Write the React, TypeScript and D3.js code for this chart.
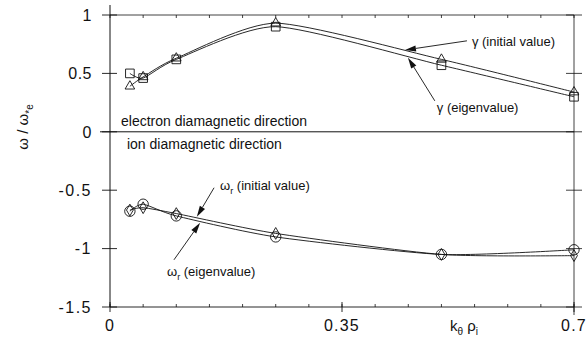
import React from 'react';
import * as d3 from 'd3';

// k_theta rho_i sample points
const kValues = [0.03, 0.05, 0.1, 0.25, 0.5, 0.7];
// growth rate gamma
const gammaInitial = [0.39, 0.47, 0.63, 0.93, 0.62, 0.34];
const gammaEigen = [0.5, 0.46, 0.62, 0.9, 0.57, 0.3];
// real frequency omega_r
const omegaInitial = [-0.67, -0.65, -0.7, -0.87, -1.05, -1.06];
const omegaEigen = [-0.68, -0.62, -0.72, -0.9, -1.05, -1.01];

const yTicks = [1, 0.5, 0, -0.5, -1, -1.5];
const yTickLabels = ['1', '0.5', '0', '-0.5', '-1', '-1.5'];
const xTicks = [0, 0.35, 0.7];
const xTickLabels = ['0', '0.35', '0.7'];

const W = 587;
const H = 347;
const font = '"Liberation Sans", Arial, Helvetica, sans-serif';
const ink = '#111';

const x = d3.scaleLinear().domain([0, 0.7]).range([110, 574]);
const y = d3.scaleLinear().domain([-1.5, 1]).range([307, 15]);

const line = d3
  .line<number>()
  .x((_, i) => x(kValues[i]))
  .y((d) => y(d))
  .curve(d3.curveCardinal.tension(0.35));

const Arrow = ({ from, to }: { from: [number, number]; to: [number, number] }) => {
  const x1 = x(from[0]), y1 = y(from[1]);
  const x2 = x(to[0]), y2 = y(to[1]);
  const a = Math.atan2(y2 - y1, x2 - x1);
  const len = 11, half = 3;
  const bx = x2 - len * Math.cos(a), by = y2 - len * Math.sin(a);
  const p1 = [bx + half * Math.sin(a), by - half * Math.cos(a)];
  const p2 = [bx - half * Math.sin(a), by + half * Math.cos(a)];
  return (
    <g>
      <line x1={x1} y1={y1} x2={bx} y2={by} stroke={ink} strokeWidth={0.9} />
      <path d={`M${x2},${y2}L${p1[0]},${p1[1]}L${p2[0]},${p2[1]}Z`} fill={ink} />
    </g>
  );
};

const Markers = ({ values, type, size }: { values: number[]; type: d3.SymbolType; size: number }) => {
  const sym = d3.symbol(type, size)();
  return (
    <g>
      {values.map((v, i) => (
        <path key={i} d={sym || ''} transform={`translate(${x(kValues[i])},${y(v)})`}
          fill="none" stroke={ink} strokeWidth={0.9} />
      ))}
    </g>
  );
};

export default function App() {
  const minor = d3.range(0, 0.7001, 0.05);
  return (
    <svg width={W} height={H} style={{ position: 'absolute', left: 0, top: 0, background: '#fff' }}
      fontFamily={font}>
      {/* frame */}
      <line x1={x(0)} x2={x(0)} y1={5} y2={y(-1.5)} stroke={ink} strokeWidth={1} />
      <line x1={x(0.7)} x2={x(0.7)} y1={y(1)} y2={y(-1.5) + 8} stroke={ink} strokeWidth={0.8} />
      <line x1={x(0)} x2={x(0.7)} y1={y(1)} y2={y(1)} stroke={ink} strokeWidth={0.8} />
      <line x1={x(0)} x2={x(0.7)} y1={y(-1.5)} y2={y(-1.5)} stroke={ink} strokeWidth={0.9} />
      <line x1={x(0) - 10} x2={x(0.7)} y1={y(0)} y2={y(0)} stroke={ink} strokeWidth={1} />

      {/* x ticks */}
      {minor.map((t, i) => (
        <g key={i}>
          <line x1={x(t)} x2={x(t)} y1={y(1)} y2={y(1) + 3} stroke={ink} strokeWidth={0.8} />
          <line x1={x(t)} x2={x(t)} y1={y(-1.5)} y2={y(-1.5) - 3} stroke={ink} strokeWidth={0.8} />
        </g>
      ))}
      {xTicks.map((t, i) => (
        <g key={i}>
          <line x1={x(t)} x2={x(t)} y1={y(-1.5) - 5} y2={y(-1.5) + 5} stroke={ink} strokeWidth={0.9} />
          <text x={x(t)} y={331} textAnchor="middle" fontSize={16} letterSpacing={1.2} fill={ink}>
            {xTickLabels[i]}
          </text>
        </g>
      ))}

      {/* y ticks */}
      {yTicks.map((t, i) => (
        <g key={i}>
          <line x1={x(0) - 8} x2={x(0) + 7} y1={y(t)} y2={y(t)} stroke={ink} strokeWidth={0.9} />
          <line x1={x(0.7) - 8} x2={x(0.7) + 8} y1={y(t)} y2={y(t)} stroke={ink} strokeWidth={0.8} />
          <text x={92} y={y(t)} dy="0.36em" textAnchor="end" fontSize={16} letterSpacing={t < 0 ? 1.5 : 0.5} fill={ink}>
            {yTickLabels[i]}
          </text>
        </g>
      ))}

      {/* curves */}
      <path d={line(gammaInitial) || ''} fill="none" stroke={ink} strokeWidth={0.9} />
      <path d={line(gammaEigen) || ''} fill="none" stroke={ink} strokeWidth={0.9} />
      <path d={line(omegaInitial) || ''} fill="none" stroke={ink} strokeWidth={0.9} />
      <path d={line(omegaEigen) || ''} fill="none" stroke={ink} strokeWidth={0.9} />

      <Markers values={gammaInitial} type={d3.symbolTriangle} size={40} />
      <Markers values={gammaEigen} type={d3.symbolSquare} size={75} />
      <Markers values={omegaInitial} type={d3.symbolDiamond} size={40} />
      <Markers values={omegaEigen} type={d3.symbolCircle} size={85} />

      {/* annotations */}
      <text x={x(0.0166)} y={y(0.051)} fontSize={14} fill={ink}>electron diamagnetic direction</text>
      <text x={x(0.0256)} y={y(-0.146)} fontSize={14} fill={ink}>ion diamagnetic direction</text>

      <Arrow from={[0.5385, 0.779]} to={[0.445, 0.7]} />
      <text x={x(0.546)} y={y(0.736)} fontSize={13} fill={ink}>γ (initial value)</text>
      <Arrow from={[0.49, 0.265]} to={[0.4495, 0.635]} />
      <text x={x(0.493)} y={y(0.171)} fontSize={13} fill={ink}>γ (eigenvalue)</text>

      <Arrow from={[0.157, -0.479]} to={[0.131, -0.728]} />
      <text x={x(0.166)} y={y(-0.497)} fontSize={13} fill={ink}>
        ω<tspan fontSize={9} dy={4}>r</tspan><tspan dy={-4}> (initial value)</tspan>
      </text>
      <Arrow from={[0.0965, -1.096]} to={[0.136, -0.779]} />
      <text x={x(0.086)} y={y(-1.233)} fontSize={13} fill={ink}>
        ω<tspan fontSize={9} dy={4}>r</tspan><tspan dy={-4}> (eigenvalue)</tspan>
      </text>

      {/* axis titles */}
      <text transform={`translate(28,127) rotate(-90)`} textAnchor="middle" fontSize={15} fill={ink}>
        ω / ω<tspan fontSize={10} dy={5}>*e</tspan>
      </text>
      <text x={450} y={331} fontSize={15} fill={ink}>
        k<tspan fontSize={10} dy={4}>θ</tspan><tspan dy={-4}> ρ</tspan><tspan fontSize={10} dy={4}>i</tspan>
      </text>
    </svg>
  );
}
